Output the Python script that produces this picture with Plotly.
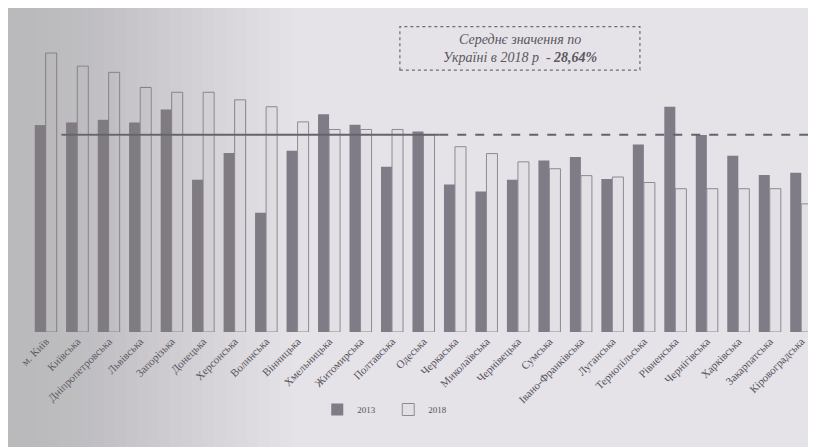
import plotly.graph_objects as go

# regions, sorted by 2018 value (left part of the source photo is blurred)
regions = [
    "м. Київ", "Київська", "Дніпропетровська", "Львівська", "Запорізька",
    "Донецька", "Херсонська", "Волинська", "Вінницька", "Хмельницька",
    "Житомирська", "Полтавська", "Одеська", "Черкаська", "Миколаївська",
    "Чернівецька", "Сумська", "Івано-Франківська", "Луганська", "Тернопільська",
    "Рівненська", "Чернігівська", "Харківська", "Закарпатська", "Кіровоградська",
]
values_2013 = [
    30.0, 30.4, 30.8, 30.4, 32.3, 22.1, 26.0, 17.3, 26.3, 31.6,
    30.1, 24.0, 29.1, 21.4, 20.4, 22.1, 24.9, 25.4, 22.2, 27.2,
    32.7, 28.6, 25.6, 22.8, 23.1,
]
values_2018 = [
    40.5, 38.6, 37.7, 35.5, 34.8, 34.8, 33.7, 32.7, 30.5, 29.4,
    29.4, 29.4, 28.6, 26.9, 25.9, 24.7, 23.7, 22.7, 22.5, 21.7,
    20.8, 20.8, 20.8, 20.8, 18.6,
]
ukraine_mean_2018 = 28.64

serif = "Liberation Serif, DejaVu Serif, serif"

fig = go.Figure()
fig.add_trace(go.Bar(
    x=regions, y=values_2013, name="2013",
    marker=dict(color="#7f7b87", line=dict(width=0)),
))
fig.add_trace(go.Bar(
    x=regions, y=values_2018, name="2018",
    marker=dict(color="#e2dfe5", line=dict(color="#8d8a93", width=1)),
))

# mean line: solid on the left, dashed on the right as in the picture
fig.add_shape(type="line", xref="paper", yref="y", x0=0.04, x1=0.52,
              y0=ukraine_mean_2018, y1=ukraine_mean_2018,
              line=dict(color="#66636c", width=2))
fig.add_shape(type="line", xref="paper", yref="y", x0=0.52, x1=0.995,
              y0=ukraine_mean_2018, y1=ukraine_mean_2018,
              line=dict(color="#66636c", width=2, dash="dash"))

# soft grey darkening towards the blurred left edge of the photographed page
for i in range(24):
    fig.add_shape(type="rect", xref="paper", yref="paper",
                  x0=-0.03, x1=0.01 + i * 0.014, y0=-0.45, y1=1.08,
                  fillcolor="#85828a", opacity=0.016, line=dict(width=0),
                  layer="above")

# dashed frame round the note
fig.add_shape(type="rect", xref="paper", yref="paper",
              x0=0.470, x1=0.775, y0=0.845, y1=0.985,
              line=dict(color="#6e6b74", width=1.2, dash="dot"))
fig.add_annotation(
    xref="paper", yref="paper", x=0.623, y=0.915, yanchor="middle",
    text="<i>Середнє значення по<br>Україні в 2018 р  - <b>28,64%</b></i>",
    showarrow=False, align="center",
    font=dict(family=serif, size=14, color="#5a5760"),
)

fig.update_layout(
    width=816, height=447,
    margin=dict(l=22, r=7, t=14, b=123),
    paper_bgcolor="#e5e2e8", plot_bgcolor="rgba(0,0,0,0)",
    barmode="group", bargap=0.3, bargroupgap=0.0,
    font=dict(family=serif, color="#55525b", size=10),
    legend=dict(orientation="h", x=0.365, y=-0.25, xanchor="left",
                yanchor="middle", font=dict(size=9),
                bgcolor="rgba(0,0,0,0)", itemwidth=30,
                entrywidth=26, entrywidthmode="pixels"),
    showlegend=True,
)
fig.update_xaxes(tickangle=-45, showline=False, showgrid=False,
                 ticks="", tickfont=dict(size=11, family=serif))
fig.update_yaxes(range=[0, 45], visible=False)

fig.write_html("out.html")
